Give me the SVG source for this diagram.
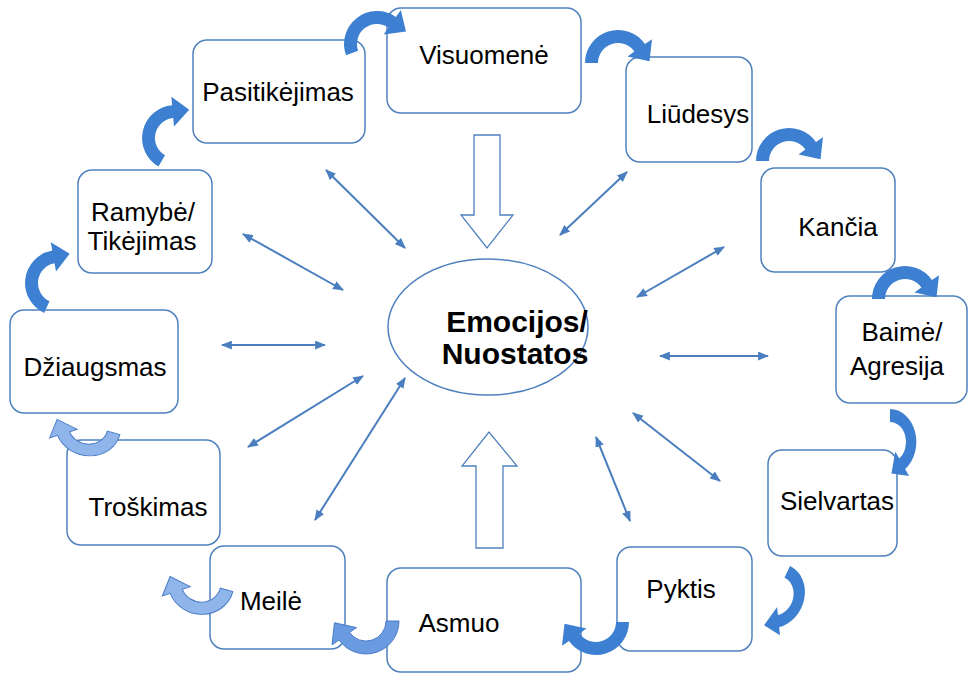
<svg xmlns="http://www.w3.org/2000/svg" width="968" height="674" viewBox="0 0 968 674">
<defs>
<style>
.box{fill:#fff;stroke:#4f81bd;stroke-width:1.5}
.t{font-family:"Liberation Sans",Arial,sans-serif;font-size:26px;fill:#000;text-anchor:middle}
.b{font-family:"Liberation Sans",Arial,sans-serif;font-size:30px;font-weight:bold;fill:#000;text-anchor:middle}
.dbl{stroke:#4a7ebf;stroke-width:2;fill:none;marker-start:url(#ah);marker-end:url(#ah)}
.big{fill:#fff;stroke:#4f81bd;stroke-width:1.3}
.ca{fill:#3d7fd0}
.cl{fill:#8fb5ea;stroke:#4a7cc8;stroke-width:1}
.cm{fill:#6a9be0;stroke:#4a7cc8;stroke-width:1}
</style>
<marker id="ah" viewBox="0 0 10 8" refX="9" refY="4" markerWidth="11" markerHeight="9" markerUnits="userSpaceOnUse" orient="auto-start-reverse">
<path d="M0,0 L10,4 L0,8 Z" fill="#4a7ebf"/>
</marker>
<path id="carr" d="M -33 0 A 33 33 0 0 1 27 -18.9 L 34 -23.8 L 31.5 -1.8 L 9.5 -6.6 L 16.4 -11.5 A 20 20 0 0 0 -20 0 Z"/>
</defs>

<g id="connectors">
<path class="dbl" d="M326,170 L405,248"/>
<path class="dbl" d="M243,234 L343,290"/>
<path class="dbl" d="M222,345 L325,345"/>
<path class="dbl" d="M248,447 L363,376"/>
<path class="dbl" d="M315,520 L405,378"/>
<path class="dbl" d="M560,235 L627,172"/>
<path class="dbl" d="M637,297 L724,247"/>
<path class="dbl" d="M660,356 L768,356"/>
<path class="dbl" d="M633,413 L720,481"/>
<path class="dbl" d="M596,437 L630,521"/>
<path class="big" d="M474,135 L500,135 L500,215 L513,215 L487,248 L461,215 L474,215 Z"/>
<path class="big" d="M476,548 L503,548 L503,466 L517,466 L489,432 L462,466 L476,466 Z"/>
</g>

<g id="center">
<ellipse cx="488" cy="327" rx="100" ry="68" fill="#fff" stroke="#4f81bd" stroke-width="1.5"/>
<text class="b" x="517" y="332">Emocijos/</text>
<text class="b" x="515" y="364">Nuostatos</text>
</g>

<g id="n-visuomene"><rect class="box" x="387" y="8" width="194" height="105" rx="14"/><text class="t" x="484" y="64">Visuomenė</text></g>
<g id="n-pasitikejimas"><rect class="box" x="193" y="40" width="172" height="103" rx="14"/><text class="t" x="278" y="101">Pasitikėjimas</text></g>
<g id="n-liudesys"><rect class="box" x="626" y="57" width="126" height="105" rx="14"/><text class="t" x="698" y="123">Liūdesys</text></g>
<g id="n-ramybe"><rect class="box" x="78" y="170" width="134" height="103" rx="14"/><text class="t" x="143" y="221">Ramybė/</text><text class="t" x="142" y="250">Tikėjimas</text></g>
<g id="n-kancia"><rect class="box" x="761" y="168" width="134" height="104" rx="14"/><text class="t" x="838" y="236">Kančia</text></g>
<g id="n-dziaugsmas"><rect class="box" x="10" y="310" width="168" height="103" rx="14"/><text class="t" x="95" y="376">Džiaugsmas</text></g>
<g id="n-baime"><rect class="box" x="836" y="296" width="131" height="107" rx="14"/><text class="t" x="902" y="341">Baimė/</text><text class="t" x="897" y="375">Agresija</text></g>
<g id="n-troskimas"><rect class="box" x="67" y="440" width="153" height="105" rx="14"/><text class="t" x="148" y="516">Troškimas</text></g>
<g id="n-sielvartas"><rect class="box" x="768" y="450" width="129" height="106" rx="14"/><text class="t" x="837" y="510">Sielvartas</text></g>
<g id="n-meile"><rect class="box" x="210" y="546" width="135" height="103" rx="14"/><text class="t" x="271" y="610">Meilė</text></g>
<g id="n-asmuo"><rect class="box" x="387" y="568" width="194" height="104" rx="14"/><text class="t" x="459" y="632">Asmuo</text></g>
<g id="n-pyktis"><rect class="box" x="617" y="547" width="135" height="104" rx="14"/><text class="t" x="681" y="598">Pyktis</text></g>

<g id="curved-arrows">
<use href="#carr" class="ca" transform="translate(377,44) rotate(-20)"/>
<use href="#carr" class="ca" transform="translate(618,63)"/>
<use href="#carr" class="ca" transform="translate(789,161)"/>
<use href="#carr" class="ca" transform="translate(905,299)"/>
<use href="#carr" class="ca" transform="translate(890,442) rotate(90) scale(1,0.8)"/>
<use href="#carr" class="ca" transform="translate(776,596) rotate(115) scale(1,0.85)"/>
<use href="#carr" class="ca" transform="translate(596,622) rotate(180)"/>
<use href="#carr" class="cm" transform="translate(366,621) rotate(180)"/>
<use href="#carr" class="cl" transform="translate(201,583) rotate(195) scale(1,0.95)"/>
<use href="#carr" class="cl" transform="translate(88,426) rotate(195) scale(1,0.9)"/>
<use href="#carr" class="ca" transform="translate(58,283) rotate(-65)"/>
<use href="#carr" class="ca" transform="translate(175,138) rotate(-60)"/>
</g>
</svg>
